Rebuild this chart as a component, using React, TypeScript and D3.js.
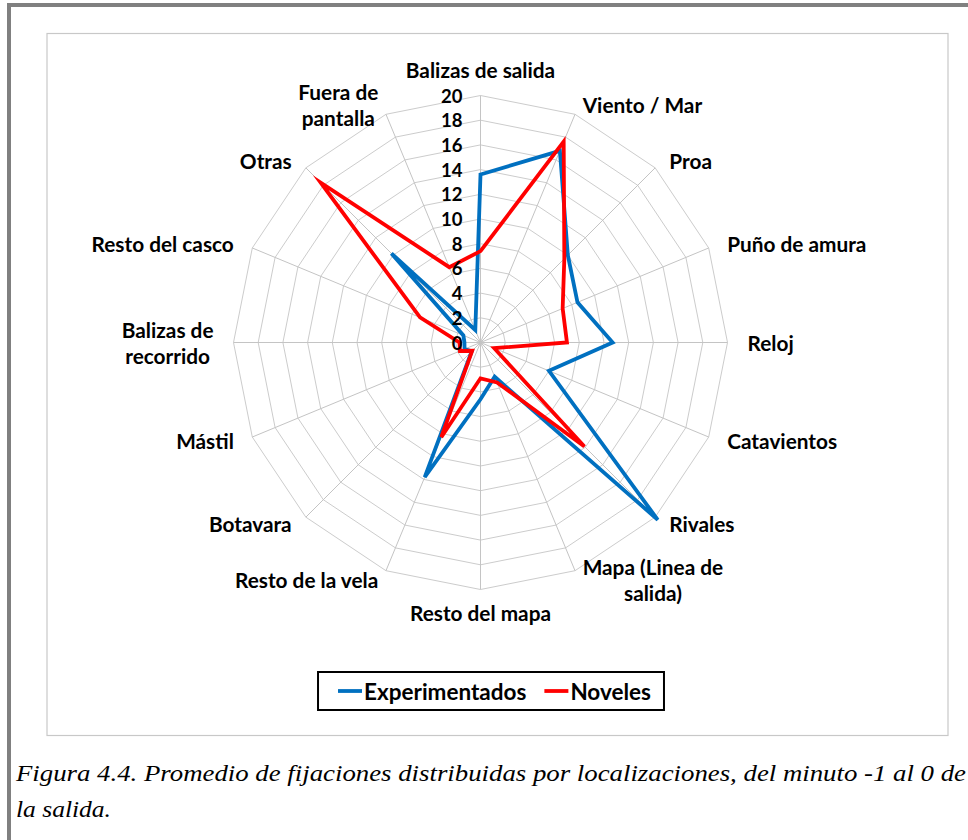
import React, { useEffect, useRef } from 'react';
import * as d3 from 'd3';

// Categories (clockwise from the top) and the two series
const categories = [
  'Balizas de salida',
  'Viento / Mar',
  'Proa',
  'Puño de amura',
  'Reloj',
  'Catavientos',
  'Rivales',
  'Mapa (Linea de\nsalida)',
  'Resto del mapa',
  'Resto de la vela',
  'Botavara',
  'Mástil',
  'Balizas de\nrecorrido',
  'Resto del casco',
  'Otras',
  'Fuera de\npantalla',
];
const experimentados = [13.6, 16.8, 10.0, 8.5, 10.7, 6.0, 20.3, 3.0, 4.6, 11.8, 1.0, 1.4, 1.3, 1.5, 10.2, 1.1];
const noveles = [7.4, 17.6, 9.6, 7.2, 7.0, 1.2, 11.9, 3.5, 2.9, 8.3, 0.95, 1.8, 1.7, 5.3, 18.3, 6.6];
const ticks = [0, 2, 4, 6, 8, 10, 12, 14, 16, 18, 20];
const seriesNames = ['Experimentados', 'Noveles'];
const seriesColors = ['#0070C0', '#FF0000'];

const W = 968;
const H = 840;
const LABEL_FONT = 'Lato, "Open Sans", sans-serif';

export default function App() {
  const svgRef = useRef<SVGSVGElement | null>(null);

  useEffect(() => {
    const svg = d3.select(svgRef.current);
    svg.selectAll('*').remove();

    const cx = 480.5;
    const cy = 342.5;
    const R = 247;
    const n = categories.length;
    const r = d3.scaleLinear().domain([0, 20]).range([0, R]);
    const ang = (i: number) => (i * 2 * Math.PI) / n;

    // page frame
    svg.append('rect').attr('x', 0).attr('y', 0).attr('width', W).attr('height', H).attr('fill', '#fff');
    svg.append('rect').attr('x', 7).attr('y', 3).attr('width', W - 7).attr('height', 4).attr('fill', '#808080');
    svg.append('rect').attr('x', 7).attr('y', 3).attr('width', 4).attr('height', H - 3).attr('fill', '#808080');

    // chart area box
    svg.append('rect').attr('x', 47).attr('y', 33.5).attr('width', 901).attr('height', 702)
      .attr('fill', '#fff').attr('stroke', '#c8c8c8').attr('stroke-width', 1.2);

    const g = svg.append('g').attr('transform', `translate(${cx},${cy})`);

    // rings
    const ring = d3.lineRadial<number>().angle((_, i) => ang(i)).radius(d => r(d)).curve(d3.curveLinearClosed);
    ticks.filter(t => t > 0).forEach(t => {
      g.append('path').attr('d', ring(categories.map(() => t)) as string)
        .attr('fill', 'none').attr('stroke', '#cccccc').attr('stroke-width', 1);
    });
    // spokes
    categories.forEach((_, i) => {
      g.append('line')
        .attr('x1', 0).attr('y1', 0)
        .attr('x2', r(20) * Math.sin(ang(i))).attr('y2', -r(20) * Math.cos(ang(i)))
        .attr('stroke', '#c4c4c4').attr('stroke-width', 1);
    });

    // series
    [experimentados, noveles].forEach((vals, k) => {
      g.append('path').attr('d', ring(vals) as string)
        .attr('fill', 'none').attr('stroke', seriesColors[k]).attr('stroke-width', 3.8)
        .attr('stroke-linejoin', 'miter').attr('stroke-miterlimit', 6);
    });

    // value axis labels
    ticks.forEach(t => {
      g.append('text').attr('x', -18).attr('y', -r(t))
        .attr('text-anchor', 'end').attr('dominant-baseline', 'central')
        .attr('font-family', LABEL_FONT).attr('font-weight', 700).attr('font-size', 18.5)
        .attr('fill', '#000').text(t);
    });

    // category labels
    const lineH = 26;
    categories.forEach((label, i) => {
      const s = Math.sin(ang(i));
      const c = Math.cos(ang(i));
      const lines = label.split('\n');
      const t = svg.append('text')
        .attr('font-family', LABEL_FONT).attr('font-weight', 700).attr('font-size', 20.8)
        .attr('fill', '#000').attr('dominant-baseline', 'central').attr('text-anchor', 'middle');
      const spans = lines.map(l => t.append('tspan').text(l));
      const widths = spans.map(sp => (sp.node() as SVGTSpanElement).getComputedTextLength());
      const boxW = d3.max(widths) || 0;
      let xc: number;
      let y0: number;
      if (Math.abs(s) < 0.01) {
        xc = cx;
        y0 = c > 0 ? cy - 260 - 14 - (lines.length - 1) * lineH : cy + 257 + 12;
      } else {
        const px = cx + 267 * s;
        xc = s > 0 ? px + boxW / 2 : px - boxW / 2;
        y0 = cy - 257 * c - ((lines.length - 1) * lineH) / 2 - 1;
      }
      spans.forEach((sp, j) => sp.attr('x', xc).attr('y', y0 + j * lineH));
    });

    // legend
    const leg = svg.append('g');
    const legY = 691;
    let lx = 0;
    seriesNames.forEach((name, k) => {
      leg.append('line').attr('x1', lx).attr('x2', lx + 24).attr('y1', legY).attr('y2', legY)
        .attr('stroke', seriesColors[k]).attr('stroke-width', 3.8);
      const tx = leg.append('text').attr('x', lx + 26).attr('y', legY)
        .attr('dominant-baseline', 'central')
        .attr('font-family', LABEL_FONT).attr('font-weight', 700).attr('font-size', 22.5)
        .text(name);
      lx += 26 + (tx.node() as SVGTextElement).getComputedTextLength() + 18;
    });
    const contentW = lx - 18;
    const boxW = contentW + 33;
    const boxX = 491 - boxW / 2;
    leg.attr('transform', `translate(${boxX + 20},0)`);
    svg.insert('rect', 'g:last-of-type')
      .attr('x', boxX).attr('y', 672).attr('width', boxW).attr('height', 38)
      .attr('fill', 'none').attr('stroke', '#000').attr('stroke-width', 2);

    // caption
    const cap = svg.append('text').attr('font-family', '"Liberation Serif", serif').attr('font-style', 'italic')
      .attr('font-size', 23).attr('fill', '#000');
    cap.append('tspan').attr('x', 16).attr('y', 781)
      .attr('textLength', 950).attr('lengthAdjust', 'spacingAndGlyphs')
      .text('Figura 4.4. Promedio de fijaciones distribuidas por localizaciones, del minuto -1 al 0 de');
    cap.append('tspan').attr('x', 16).attr('y', 817).attr('textLength', 95).attr('lengthAdjust', 'spacingAndGlyphs')
      .text('la salida.');
  }, []);

  return (
    <svg
      ref={svgRef}
      width={W}
      height={H}
      style={{ display: 'block', position: 'absolute', left: 0, top: 0 }}
    />
  );
}
